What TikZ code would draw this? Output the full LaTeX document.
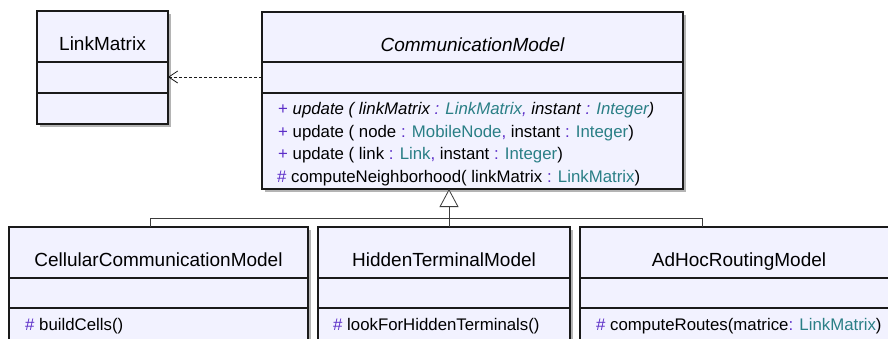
\documentclass[tikz,border=0pt]{standalone}
\usepackage{fontspec}
\setmainfont{Liberation Sans}
\usepackage{xcolor}
\usetikzlibrary{arrows.meta}
\definecolor{umlfill}{HTML}{F2F2FF}
\definecolor{umlline}{HTML}{1A1A1A}
\definecolor{umlvis}{HTML}{5B2DC8}
\definecolor{umltype}{HTML}{2A7F86}
\definecolor{umlshadow}{HTML}{B4B4B4}

\newcommand{\vis}[1]{\textcolor{umlvis}{#1}}
\newcommand{\typ}[1]{\textcolor{umltype}{#1}}

\begin{document}
\begin{tikzpicture}[x=1pt,y=-1pt,
  classbox/.style={draw=umlline,line width=1.6pt,fill=umlfill,inner sep=0pt,outer sep=0pt,anchor=north west},
  shadowbox/.style={fill=umlshadow},
  compline/.style={draw=umlline,line width=1.4pt},
  classname/.style={anchor=base,inner sep=0pt,font=\fontsize{19}{22}\selectfont},
  member/.style={anchor=base west,inner sep=0pt,font=\fontsize{16.8}{20}\selectfont},
  depend/.style={draw=umlline,line width=0.8pt,dash pattern=on 3pt off 2pt,-{Straight Barb[length=9pt,width=12pt]}},
  inherit/.style={draw=umlline!85,line width=0.8pt}
]
  \useasboundingbox (0,0) rectangle (888,338);
  \clip (0,0) rectangle (888,338);
  \fill[white] (0,0) rectangle (888,338);

  % shadows
  \fill[shadowbox] (40,14) rectangle (171,127);
  \fill[shadowbox] (265,15) rectangle (686,192);
  \fill[shadowbox] (12,230) rectangle (311,360);
  \fill[shadowbox] (321,230) rectangle (573,360);
  \fill[shadowbox] (583,230) rectangle (901,360);

  % classes
  \node[classbox,minimum width=131pt,minimum height=113pt] (lm) at (37,11) {};
  \node[classbox,minimum width=421pt,minimum height=177pt] (cm) at (262,12) {};
  \node[classbox,minimum width=299pt,minimum height=130pt] (cell) at (9,227) {};
  \node[classbox,minimum width=252pt,minimum height=130pt] (hidden) at (318,227) {};
  \node[classbox,minimum width=318pt,minimum height=130pt] (adhoc) at (580,227) {};

  % compartments
  \foreach \c/\a/\b in {lm/51/82, cm/50/81, cell/51/81, hidden/51/81, adhoc/51/81}{
    \draw[compline] ([yshift=-\a pt]\c.north west) -- ([yshift=-\a pt]\c.north east);
    \draw[compline] ([yshift=-\b pt]\c.north west) -- ([yshift=-\b pt]\c.north east);
  }

  % names
  \node[classname] (lm-name) at (102.5,50) {LinkMatrix};
  \node[classname] (cm-name) at (472.5,51) {\itshape CommunicationModel};
  \node[classname] (cell-name) at (158.5,266) {CellularCommunicationModel};
  \node[classname] (hidden-name) at (444,266) {HiddenTerminalModel};
  \node[classname] (adhoc-name) at (739,266) {AdHocRoutingModel};

  % operations
  \node[member] (cm-op1) at (278,114) {\vis{+} \itshape update ( linkMatrix \vis{:} \typ{LinkMatrix}\vis{,} instant \vis{:} \typ{Integer})};
  \node[member] (cm-op2) at (278,137) {\vis{+} update ( node \vis{:} \typ{MobileNode}\vis{,} instant \vis{:} \typ{Integer})};
  \node[member] (cm-op3) at (278,159) {\vis{+} update ( link \vis{:} \typ{Link}\vis{,} instant \vis{:} \typ{Integer})};
  \node[member] (cm-op4) at (277,182) {\vis{\#} computeNeighborhood( linkMatrix \vis{:} \typ{LinkMatrix})};
  \node[member] (cell-op1) at (25,330) {\vis{\#} buildCells()};
  \node[member] (hidden-op1) at (333,330) {\vis{\#} lookForHiddenTerminals()};
  \node[member] (adhoc-op1) at (596,330) {\vis{\#} computeRoutes(matrice\vis{:} \typ{LinkMatrix})};

  % dependency
  \coordinate (dep) at (0,77);
  \draw[depend] (cm.west |- dep) -- (lm.east |- dep);

  % generalization
  \coordinate (gen) at (449,218);
  \coordinate (gen-l) at (150,218);
  \coordinate (gen-r) at (702,218);
  \draw[inherit,-{Triangle[open,length=18pt,width=19pt,fill=white]}] (gen) -- (gen |- cm.south);
  \draw[inherit] (gen-l |- cell.north) -- (gen-l) -- (gen-r) -- (gen-r |- adhoc.north);
  \draw[inherit] (gen) -- (gen |- hidden.north);
\end{tikzpicture}
\end{document}
